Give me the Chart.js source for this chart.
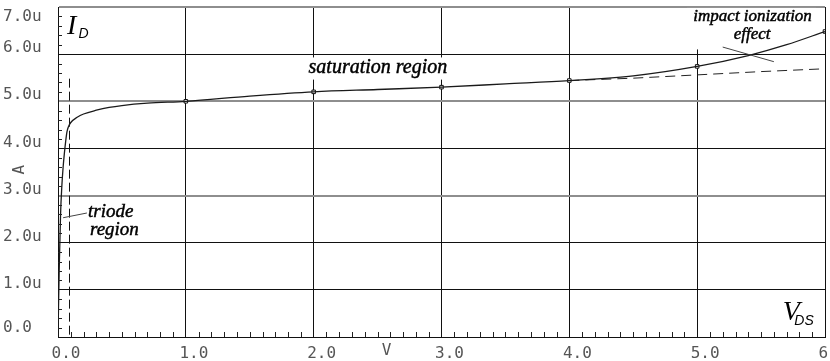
<!DOCTYPE html>
<html>
<head>
<meta charset="utf-8">
<script src="https://cdn.jsdelivr.net/npm/chart.js@4.4.1/dist/chart.umd.min.js"></script>
<style>
html, body { margin: 0; padding: 0; background: #fff; }
canvas { display: block; }
</style>
</head>
<body>
<canvas id="graficaID" width="830" height="361"></canvas>
<script>
// ==========================
// DATOS (V_DS en V, I_D en uA)
// ==========================
const vds  = [0, 0.005, 0.01, 0.02, 0.03, 0.04, 0.05, 0.06, 0.07, 0.08, 0.1, 0.15, 0.2, 0.3, 0.4, 0.5, 0.7, 1.0, 1.5, 2.0, 2.5, 3.0, 3.5, 4.0, 4.5, 5.0, 5.4, 5.7, 6.0];
const idUA = [0, 0.8, 1.5, 2.6, 3.2, 3.6, 3.9, 4.15, 4.35, 4.45, 4.55, 4.66, 4.73, 4.81, 4.87, 4.91, 4.96, 5.0, 5.11, 5.2, 5.25, 5.3, 5.37, 5.44, 5.54, 5.74, 5.97, 6.2, 6.48];

// marcadores cuadrados sobre la curva
const marcaV = [1, 2, 3, 4, 5, 6];
const marcaI = [5.0, 5.2, 5.3, 5.44, 5.74, 6.48];

// saturacion sin ionizacion por impacto (discontinua)
const satV = [4.0, 4.5, 5.0, 5.5, 6.0];
const satI = [5.44, 5.49, 5.56, 5.63, 5.69];

// limite triodo / saturacion
const limV = [0.09, 0.09];
const limI = [5.48, 0];

// ejes
const xTicks = [0, 1, 2, 3, 4, 5, 6];
const xLabels = ["0.0", "1.0", "2.0", "3.0", "4.0", "5.0", "6.0"];
const yTicks = [0, 1, 2, 3, 4, 5, 6, 7];
const yLabels = ["0.0", "1.0u", "2.0u", "3.0u", "4.0u", "5.0u", "6.0u", "7.0u"];

const pts = (xs, ys) => xs.map((v, i) => ({ x: v, y: ys[i] }));

const FUENTE_EJE = '16px "DejaVu Sans Mono"';
const SERIF_IT = 'italic 19px "Liberation Serif"';
const SERIF_IT_P = 'italic 17px "Liberation Serif"';

// textos de anotacion (en unidades de datos); g = con trazo extra
const notas = [
    { t: "saturation region", v: 1.96, i: 5.61, f: 'italic 20px "Liberation Serif"', a: "left", g: true },
    { t: "triode", v: 0.235, i: 2.55, f: SERIF_IT, a: "left", g: true },
    { t: "region", v: 0.25, i: 2.17, f: SERIF_IT, a: "left", g: true },
    { t: "impact ionization", v: 4.97, i: 6.71, f: SERIF_IT_P, a: "left", g: true },
    { t: "effect", v: 5.43, i: 6.33, f: SERIF_IT_P, a: "center", g: true },
    { t: "I", v: 0.07, i: 6.42, f: 'italic 28px "Liberation Serif"', a: "left", g: false },
    { t: "D", v: 0.16, i: 6.35, f: 'italic 14px "Liberation Sans"', a: "left", g: false },
    { t: "V", v: 5.67, i: 0.36, f: 'italic 28px "Liberation Serif"', a: "left", g: false },
    { t: "DS", v: 5.76, i: 0.25, f: 'italic 14px "Liberation Sans"', a: "left", g: false }
];

// lineas guia
const guias = [
    { v1: 0.04, i1: 2.53, v2: 0.226, i2: 2.63 },
    { v1: 5.2, i1: 6.15, v2: 5.6, i2: 5.84 }
];

// fondos blancos detras de textos
const fondos = [
    { v1: 1.93, i1: 5.93, v2: 3.1, i2: 5.46 },
    { v1: 4.92, i1: 6.98, v2: 5.93, i2: 6.1 }
];

const plugDecor = {
    id: "decor",
    beforeDatasetsDraw(chart) {
        const c = chart.ctx, sx = chart.scales.x, sy = chart.scales.y;
        c.save();
        c.fillStyle = "#fff";
        fondos.forEach(b => {
            const x1 = sx.getPixelForValue(b.v1), x2 = sx.getPixelForValue(b.v2);
            const y1 = sy.getPixelForValue(b.i1), y2 = sy.getPixelForValue(b.i2);
            c.fillRect(x1, y1, x2 - x1, y2 - y1);
        });
        c.restore();
    },
    afterDraw(chart) {
        const c = chart.ctx, sx = chart.scales.x, sy = chart.scales.y;
        const area = chart.chartArea;
        c.save();

        // ticks menores hacia dentro
        c.strokeStyle = "#222";
        c.lineWidth = 1;
        c.beginPath();
        for (let k = 1; k < 60; k++) {
            if (k % 10 === 0) continue;
            const px = Math.round(sx.getPixelForValue(k / 10)) + 0.5;
            c.moveTo(px, area.bottom);
            c.lineTo(px, area.bottom - 5);
        }
        for (let k = 1; k < 35; k++) {
            if (k % 5 === 0) continue;
            const py = Math.round(sy.getPixelForValue(k / 5)) + 0.5;
            c.moveTo(area.left, py);
            c.lineTo(area.left + 4, py);
        }
        c.stroke();

        // etiquetas eje Y
        c.fillStyle = "#555";
        c.font = FUENTE_EJE;
        c.textAlign = "left";
        c.textBaseline = "middle";
        yTicks.forEach((v, i) => {
            let py = sy.getPixelForValue(v) - 6;
            py = Math.min(Math.max(py, 17), 328);
            c.fillText(yLabels[i], 3, py);
        });

        // titulo eje Y "A"
        c.save();
        c.translate(20, sy.getPixelForValue(3.55));
        c.rotate(-Math.PI / 2);
        c.textAlign = "center";
        c.fillText("A", 0, 0);
        c.restore();

        // titulo eje X "V"
        c.textAlign = "center";
        c.fillText("V", sx.getPixelForValue(2.57), 351);

        // guias
        c.strokeStyle = "#444";
        c.lineWidth = 1;
        guias.forEach(g => {
            c.beginPath();
            c.moveTo(sx.getPixelForValue(g.v1), sy.getPixelForValue(g.i1));
            c.lineTo(sx.getPixelForValue(g.v2), sy.getPixelForValue(g.i2));
            c.stroke();
        });

        // textos (trazo fino en las notas para darles algo mas de peso)
        c.fillStyle = "#000";
        c.strokeStyle = "#000";
        c.lineWidth = 0.45;
        c.textBaseline = "alphabetic";
        notas.forEach(n => {
            c.font = n.f;
            c.textAlign = n.a;
            const px = sx.getPixelForValue(n.v), py = sy.getPixelForValue(n.i);
            c.fillText(n.t, px, py);
            if (n.g) c.strokeText(n.t, px, py);
        });
        c.restore();
    }
};

new Chart(document.getElementById("graficaID"), {
    type: "line",
    data: {
        datasets: [
            {
                data: pts(vds, idUA),
                borderColor: "#1a1a1a",
                borderWidth: 1.3,
                pointRadius: 0,
                cubicInterpolationMode: "monotone",
                fill: false
            },
            {
                data: pts(marcaV, marcaI),
                showLine: false,
                pointStyle: "rect",
                pointRadius: 2.5,
                pointBorderColor: "#111",
                pointBackgroundColor: "#fff",
                pointBorderWidth: 1
            },
            {
                data: pts(satV, satI),
                borderColor: "#222",
                borderWidth: 1,
                borderDash: [10, 6],
                pointRadius: 0,
                fill: false
            },
            {
                data: pts(limV, limI),
                borderColor: "#111",
                borderWidth: 1,
                borderDash: [9, 4],
                pointRadius: 0,
                fill: false
            }
        ]
    },
    options: {
        responsive: false,
        animation: false,
        devicePixelRatio: 1,
        layout: { padding: { top: 7, right: 1, left: 0, bottom: 0 } },
        plugins: { legend: { display: false }, tooltip: { enabled: false } },
        scales: {
            x: {
                type: "linear",
                min: 0,
                max: 6,
                afterBuildTicks: s => { s.ticks = xTicks.map(v => ({ value: v })); },
                ticks: {
                    callback: (v) => xLabels[Math.round(v)],
                    font: { family: "DejaVu Sans Mono", size: 16 },
                    color: "#555",
                    labelOffset: 8,
                    padding: 7,
                    maxRotation: 0,
                    autoSkip: false
                },
                grid: { color: "#111", lineWidth: 1, drawTicks: false },
                border: { color: "#111" },
                afterFit: s => { s.height = 24; s.paddingLeft = 0; s.paddingRight = 0; }
            },
            y: {
                type: "linear",
                min: 0,
                max: 7,
                afterBuildTicks: s => { s.ticks = yTicks.map(v => ({ value: v })); },
                ticks: { display: false },
                grid: {
                    drawTicks: false,
                    color: c => ([3, 5, 7].includes(c.tick.value) ? "#8e8e8e" : "#111"),
                    lineWidth: c => ([3, 5, 7].includes(c.tick.value) ? 2 : 1)
                },
                border: { color: "#111" },
                afterFit: s => { s.width = 58; s.paddingTop = 0; s.paddingBottom = 0; }
            }
        }
    },
    plugins: [plugDecor]
});
</script>
</body>
</html>
